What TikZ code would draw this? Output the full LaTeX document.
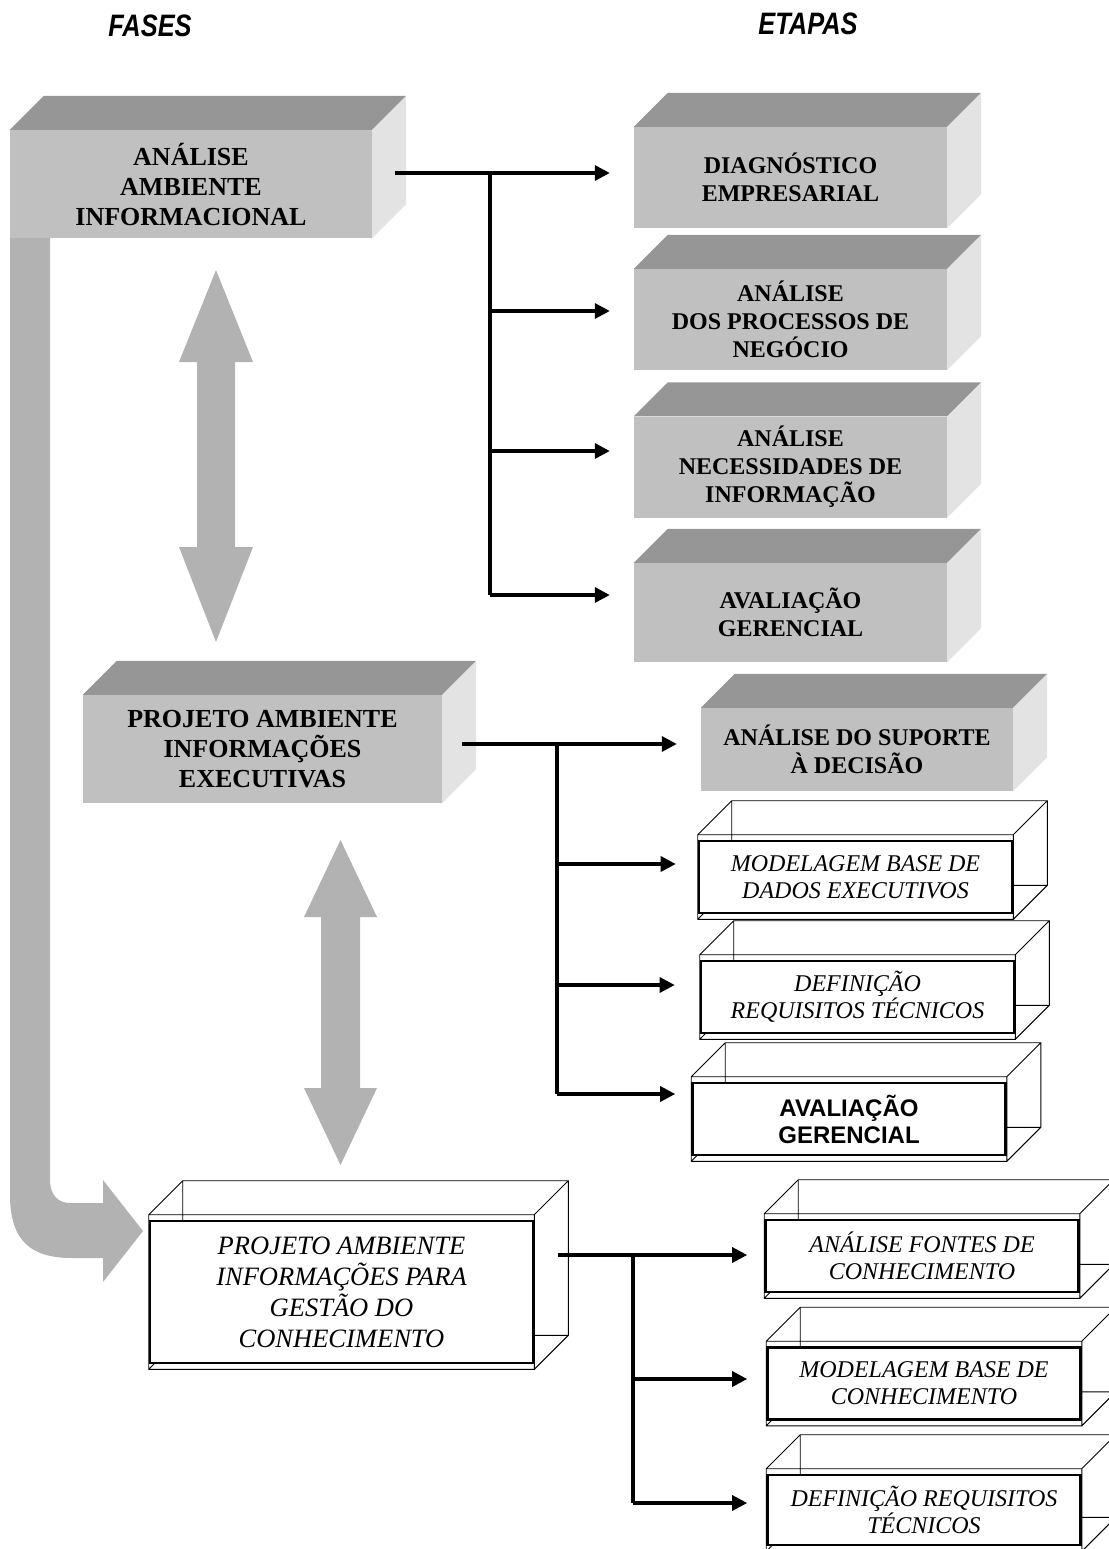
\documentclass[tikz,border=0pt]{standalone}
\usepackage{fontspec}
\setmainfont{Liberation Serif}
\newfontfamily\titulofont{Liberation Sans}[FakeStretch=0.82]
\newfontfamily\arialfont{Liberation Sans}
\usetikzlibrary{arrows.meta,backgrounds}
\definecolor{frente}{HTML}{C0C0C0}
\definecolor{topo}{HTML}{969696}
\definecolor{lado}{HTML}{E3E3E3}
\definecolor{setacinza}{HTML}{B2B2B2}
\begin{document}
\begin{tikzpicture}[x=1pt,y=-1pt]
\def\prof{34}
\tikzset{cx/.style={fill=frente,inner sep=0pt,align=center,minimum width=313,minimum height=101,font=\bfseries\fontsize{24}{28}\selectfont},
	vz/.style={draw,line width=2.6pt,fill=white,inner sep=0pt,align=center,minimum width=313,minimum height=72,font=\itshape\fontsize{24}{27}\selectfont},
	fina/.style={line width=0.9pt},
	fio/.style={line width=3.3pt},
	seta/.style={fio,-{Triangle[length=15pt,width=15pt]}},
	tit/.style={font=\titulofont\bfseries\itshape\fontsize{31}{31}\selectfont}}
\useasboundingbox(0,0)rectangle(1108,1549);
%%Titulos
\path(150,26)node[tit](fases){FASES}(808,24)node[tit](etapas){ETAPAS};
%%Fases
\path(191,184)node[cx,minimum width=362,minimum height=108,font=\bfseries\fontsize{26}{30}\selectfont](f1){ANÁLISE\\AMBIENTE\\INFORMACIONAL}
	(262.5,749)node[cx,minimum width=359,minimum height=108,font=\bfseries\fontsize{26}{30}\selectfont](f2){PROJETO AMBIENTE\\INFORMAÇÕES\\EXECUTIVAS}
	(341.5,1292)node[vz,minimum width=383,minimum height=142,font=\itshape\fontsize{26.5}{31}\selectfont](f3){PROJETO AMBIENTE\\INFORMAÇÕES PARA\\GESTÃO DO\\CONHECIMENTO};
%%Etapas
\path(790.5,177.5)node[cx](e1){DIAGNÓSTICO\\EMPRESARIAL}
	(790.5,319.5)node[cx](e2){ANÁLISE\\DOS PROCESSOS DE\\NEGÓCIO}
	(790.5,467)node[cx](e3){ANÁLISE\\NECESSIDADES DE\\INFORMAÇÃO}
	(790.5,612.5)node[cx,minimum height=99](e4){AVALIAÇÃO\\GERENCIAL};
\path(857,749.5)node[cx,minimum width=312,minimum height=83](s1){ANÁLISE DO SUPORTE\\À DECISÃO}
	(855.5,877)node[vz](s2){MODELAGEM BASE DE\\DADOS EXECUTIVOS}
	(857.5,997)node[vz](s3){DEFINIÇÃO\\REQUISITOS TÉCNICOS}
	(849,1119)node[vz,font=\arialfont\bfseries\fontsize{24}{27}\selectfont](s4){AVALIAÇÃO\\GERENCIAL};
\path(922,1256)node[vz](b1){ANÁLISE FONTES DE\\CONHECIMENTO}
	(924,1383.5)node[vz](b2){MODELAGEM BASE DE\\CONHECIMENTO}
	(924,1510)node[vz,minimum height=70](b3){DEFINIÇÃO REQUISITOS\\TÉCNICOS};
%%Faces das caixas cinza
\foreach \n in {f1,f2,e1,e2,e3,e4,s1}{
	\fill[topo](\n.north west)--++(\prof,-\prof)--([shift={(\prof,-\prof)}]\n.north east)--(\n.north east)--cycle;
	\fill[lado](\n.north east)--++(\prof,-\prof)--([shift={(\prof,-\prof)}]\n.south east)--(\n.south east)--cycle;}
%%Arestas das caixas vazadas
\begin{scope}[on background layer]
\foreach \n in {f3,s2,s3,s4,b1,b2,b3}{
	\coordinate(nw)at([yshift=5pt]\n.north west);\coordinate(ne)at([yshift=5pt]\n.north east);
	\coordinate(sw)at([yshift=-5pt]\n.south west);\coordinate(se)at([yshift=-5pt]\n.south east);
	\draw[fina](nw)rectangle(se)(nw)--++(\prof,-\prof)coordinate(bnw)--([shift={(\prof,-\prof)}]ne)coordinate(bne)--([shift={(\prof,-\prof)}]se)coordinate(bse)--(se)
		(ne)--(bne)(sw)--++(\prof,-\prof)coordinate(bsw)--(bnw)(bsw)--(bse);}
\end{scope}
%%Setas cinza
\fill[setacinza](10,238)--(10,1195)..controls(10,1240)and(30,1258)..(72,1258)--(103,1258)--(103,1282)--(143,1231)--(103,1180)--(103,1203)--(70,1203)..controls(58,1203)and(50,1195)..(50,1180)--(50,238)--cycle;
\fill[setacinza](216,270)--(253,362)--(235,362)--(235,547)--(253,547)--(216,642)--(179,547)--(197,547)--(197,362)--(179,362)--cycle;
\fill[setacinza](340.5,840)--(377,917)--(360,917)--(360,1088)--(377,1088)--(340.5,1165)--(304,1088)--(321,1088)--(321,917)--(304,917)--cycle;
%%Conectores
\coordinate(p1)at(395,173);\coordinate(p2)at(462,744);\coordinate(p3)at(558,1255);
\foreach \n/\y in {1/173,2/311,3/451,4/595}\coordinate(a\n)at(490,\y);
\foreach \n/\y in {1/744,2/864,3/985,4/1094}\coordinate(m\n)at(557,\y);
\foreach \n/\y in {1/1255,2/1379,3/1503}\coordinate(c\n)at(633,\y);
\draw[fio](p1)--(a1)--(a4);
\draw[fio](p2)--(m1)--(m4);
\draw[fio](p3)--(c1)--(c3);
\foreach \n in {1,...,4}
\draw[seta,shorten >=24pt](a\n)--(a\n-|e\n.west);
\foreach \n/\s in {1/24,2/22,3/25,4/16}
\draw[seta,shorten >=\s pt](m\n)--(m\n-|s\n.west);
\foreach \n/\s in {1/17,2/19,3/19}
\draw[seta,shorten >=\s pt](c\n)--(c\n-|b\n.west);
\end{tikzpicture}
\end{document}
